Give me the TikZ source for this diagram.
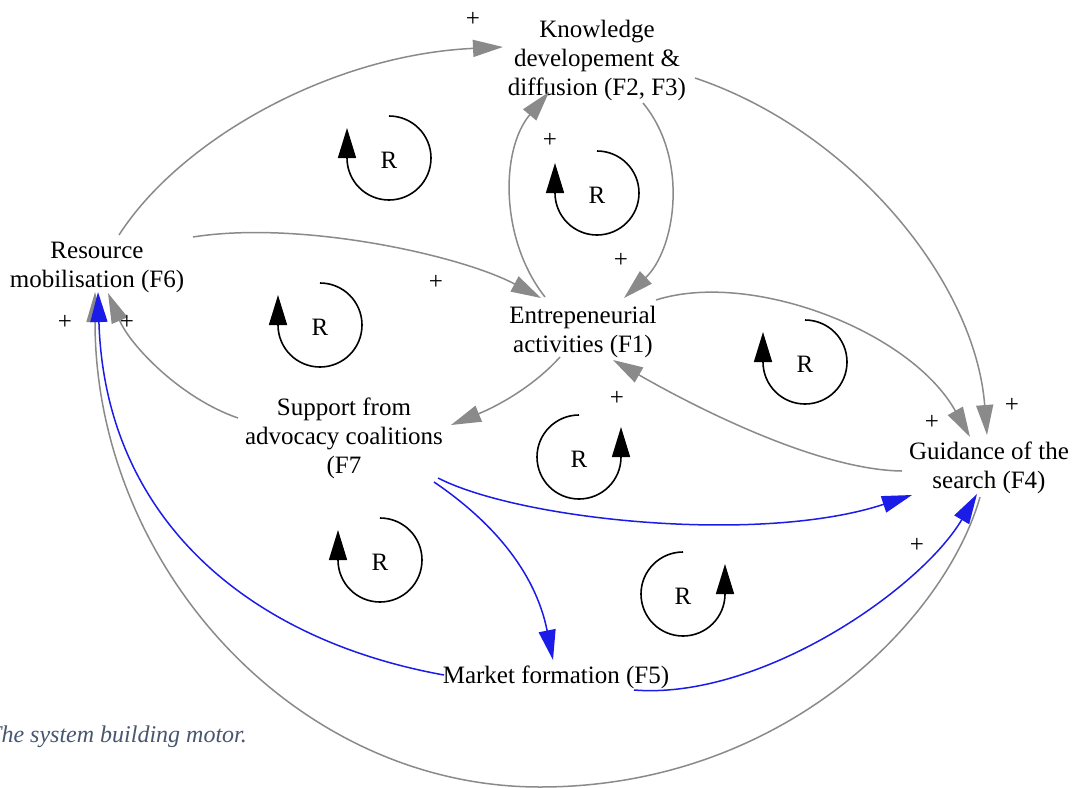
\documentclass[tikz,border=0pt]{standalone}
\usepackage{fontspec}
\setmainfont{Liberation Serif}
\usetikzlibrary{arrows.meta}
\definecolor{arrowgray}{RGB}{138,138,138}
\definecolor{linkblue}{RGB}{28,28,232}
\definecolor{captionslate}{RGB}{72,86,112}

\tikzset{
  factor/.style={align=center,inner sep=0pt,font=\fontsize{25}{29}\selectfont},
  sign/.style={inner sep=0pt,font=\fontsize{25}{25}\selectfont},
  grayflow/.style={draw=arrowgray,line width=1.5pt,-{Triangle[length=30pt,width=17pt]}},
  blueflow/.style={draw=linkblue,line width=1.5pt,-{Triangle[length=30pt,width=17pt]}},
  loopline/.style={draw=black,line width=1.6pt,-{Triangle[length=30pt,width=18pt]}},
  % reinforcing loop, arrow on the left (turning clockwise)
  cwloop/.pic={
    \draw[loopline] (0,-42) arc[start angle=270,end angle=540,radius=42] -- ++(0,-30);
    \node[factor] (-r) at (0,2) {R};
  },
  % reinforcing loop, arrow on the right (turning counter-clockwise)
  ccwloop/.pic={
    \draw[loopline] (0,-42) arc[start angle=270,end angle=0,radius=42] -- ++(0,-30);
    \node[factor] (-r) at (0,2) {R};
  }
}

\begin{document}
\begin{tikzpicture}[x=1pt,y=-1pt]
\useasboundingbox (0,0) rectangle (1075,787);
\fill[white] (0,0) rectangle (1075,787);

% functions of the innovation system
\node[factor] (K)  at (597,60)  {Knowledge\\developement \&\\diffusion (F2, F3)};
\node[factor] (RM) at (97,267)  {Resource\\mobilisation (F6)};
\node[factor] (EA) at (583,332) {Entrepeneurial\\activities (F1)};
\node[factor] (SA) at (344,438) {Support from\\advocacy coalitions\\(F7};
\node[factor] (GS) at (989,468) {Guidance of the\\search (F4)};
\node[factor] (MF) at (556,677) {Market formation (F5)};

% gray links
\draw[grayflow] ([shift={(22,-32)}]RM.center) .. controls (180,140) and (330,55) .. ([shift={(-94,-13)}]K.center);
\draw[grayflow] ([shift={(96,-30)}]RM.center) .. controls (300,220) and (460,255) .. ([shift={(-42,-34)}]EA.center);
\draw[grayflow] ([shift={(46,43)}]K.center) .. controls (690,160) and (675,250) .. ([shift={(41,-34)}]EA.center);
\draw[grayflow] ([shift={(-38,-35)}]EA.center) .. controls (500,240) and (500,150) .. ([shift={(-48,32)}]K.center);
\draw[grayflow] ([shift={(73,-32)}]EA.center) .. controls (750,270) and (910,330) .. ([shift={(-19,-31)}]GS.center);
\draw[grayflow] ([shift={(98,18)}]K.center) .. controls (850,130) and (975,280) .. ([shift={(-2,-33)}]GS.center);
\draw[grayflow] ([shift={(-87,3)}]GS.center) .. controls (820,470) and (700,410) .. ([shift={(30,28)}]EA.center);
\draw[grayflow] ([shift={(-23,25)}]EA.center) .. controls (535,385) and (500,405) .. ([shift={(107,-13)}]SA.center);
\draw[grayflow] ([shift={(-106,-20)}]SA.center) .. controls (180,398) and (130,345) .. ([shift={(11,26)}]RM.center);
\draw[grayflow] ([shift={(-9,29)}]GS.center) .. controls (945,620) and (783,787) .. (540,787)
  .. controls (294,787) and (95,565) .. ([shift={(-2,25)}]RM.center);

% blue links
\draw[blueflow] ([shift={(94,40)}]SA.center) .. controls (520,520) and (760,545) .. ([shift={(-77,27)}]GS.center);
\draw[blueflow] ([shift={(90,44)}]SA.center) .. controls (490,520) and (535,570) .. ([shift={(-3,-17)}]MF.center);
\draw[blueflow] ([shift={(-112,-2)}]MF.center) .. controls (250,640) and (105,520) .. ([shift={(1,25)}]RM.center);
\draw[blueflow] ([shift={(78,13)}]MF.center) .. controls (760,700) and (920,590) .. ([shift={(-12,26)}]GS.center);

% polarity signs
\node[sign] (p1)  at (473,19)  {+};
\node[sign] (p2)  at (436,282) {+};
\node[sign] (p3)  at (550,140) {+};
\node[sign] (p4)  at (621,260) {+};
\node[sign] (p5)  at (617,398) {+};
\node[sign] (p6)  at (932,422) {+};
\node[sign] (p7)  at (1012,405) {+};
\node[sign] (p8)  at (917,545) {+};
\node[sign] (p9)  at (65,322)  {+};
\node[sign] (p10) at (127,322) {+};

% reinforcing loops
\pic (l1) at (389,158) {cwloop};
\pic (l2) at (597,193) {cwloop};
\pic (l3) at (320,325) {cwloop};
\pic (l4) at (805,362) {cwloop};
\pic (l5) at (579,457) {ccwloop};
\pic (l6) at (683,594) {ccwloop};
\pic (l7) at (380,560) {cwloop};

% caption
\node[anchor=base west,inner sep=0pt,text=captionslate,font=\fontsize{24}{29}\selectfont\itshape] (caption) at (-12,742) {The system building motor.};
\end{tikzpicture}
\end{document}
